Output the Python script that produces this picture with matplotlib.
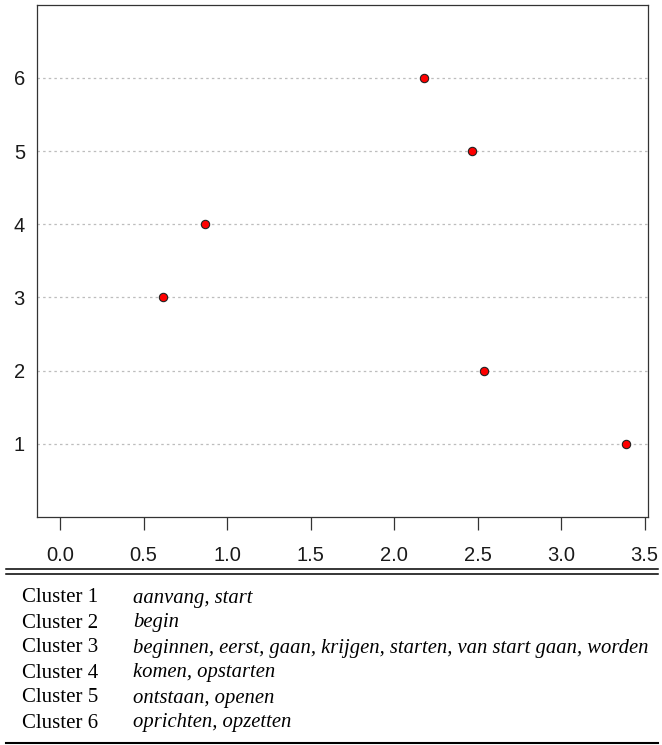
import matplotlib
matplotlib.use("Agg")
import matplotlib.pyplot as plt
from matplotlib.lines import Line2D

# data
clusters = ["Cluster 1", "Cluster 2", "Cluster 3", "Cluster 4", "Cluster 5", "Cluster 6"]
ypos = [1, 2, 3, 4, 5, 6]
values = [3.387, 2.537, 0.618, 0.868, 2.464, 2.178]
words = [
    "aanvang, start",
    "begin",
    "beginnen, eerst, gaan, krijgen, starten, van start gaan, worden",
    "komen, opstarten",
    "ontstaan, openen",
    "oprichten, opzetten",
]
xticks = [0.0, 0.5, 1.0, 1.5, 2.0, 2.5, 3.0, 3.5]

W, H = 662, 745
fig = plt.figure(figsize=(W / 100, H / 100), dpi=100)
ax = fig.add_axes([36.7 / W, 1 - 517 / H, (648 - 36.7) / W, (517 - 4.7) / H])

# dotted guide lines, as in a dot chart
for y in ypos:
    ax.axhline(y, color="#bdbdbd", lw=0.9, ls=(0, (2, 2.5)), zorder=1)
ax.plot(values, ypos, "o", ms=6, mfc="#ff0000", mec="#222222", mew=0.8,
        ls="none", zorder=3)

ax.set_xlim(-0.14, 3.52)
ax.set_ylim(0, 7)
ax.set_xticks(xticks)
ax.set_xticklabels(["%.1f" % t for t in xticks])
ax.set_yticks(ypos)
ax.set_yticklabels([str(y) for y in ypos])
for s in ax.spines.values():
    s.set_linewidth(0.9)
    s.set_color("#333333")
ax.tick_params(axis="x", length=9, width=0.9, color="#333333", pad=12,
               labelsize=14.5, labelcolor="#1a1a1a")
ax.tick_params(axis="y", length=0, pad=8.5, labelsize=14.5, labelcolor="#1a1a1a")
for lab in ax.get_xticklabels() + ax.get_yticklabels():
    lab.set_family("Liberation Sans")

# table below the chart
def hline(ypx, lw):
    fig.add_artist(Line2D([6 / W, 658 / W], [1 - ypx / H, 1 - ypx / H],
                          color="black", lw=lw, transform=fig.transFigure))

hline(569, 1.1)
hline(574, 1.1)
hline(742.5, 1.5)

row0, dy = 598, 25
for i, (c, w) in enumerate(zip(clusters, words)):
    y = 1 - (row0 + i * dy) / H
    fig.text(22 / W, y, c, family="Liberation Serif", size=15, va="center")
    fig.text(133 / W, y, w, family="Liberation Serif", style="italic",
             size=14.85, va="center")

fig.savefig("out.png", dpi=100)
